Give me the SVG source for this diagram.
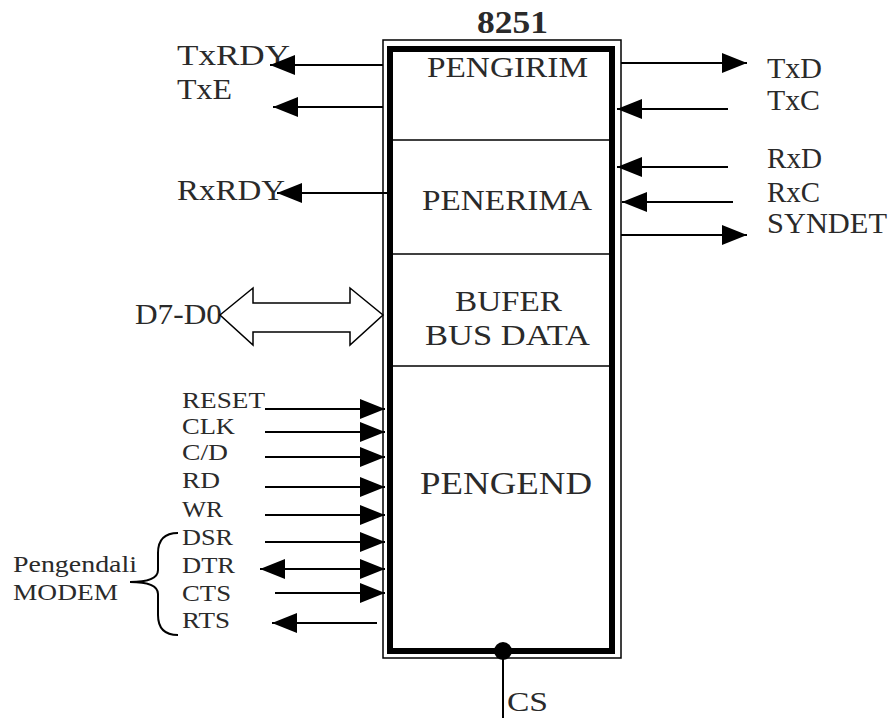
<svg xmlns="http://www.w3.org/2000/svg" width="891" height="718" viewBox="0 0 891 718">
<style>
text{font-family:"Liberation Serif","Times New Roman",serif;fill:#2a2a2a;}
.lbl{font-size:30px;}
.sm{font-size:24px;}
.blk{font-size:29px;}
.ln{stroke:#000;stroke-width:2;fill:none;}
</style>
<defs>
<marker id="ah" markerUnits="userSpaceOnUse" markerWidth="26" markerHeight="22" refX="25" refY="11" orient="auto-start-reverse" viewBox="0 0 26 22">
<path d="M0,1 L25,11 L0,21 Z" fill="#000"/>
</marker>
</defs>
<rect width="891" height="718" fill="#fff"/>
<g id="chip">
<rect x="383" y="40" width="238" height="618" fill="none" stroke="#000" stroke-width="1.5"/>
<rect x="390" y="49" width="222" height="602" fill="none" stroke="#000" stroke-width="6"/>
<line x1="393" y1="140" x2="609" y2="140" stroke="#000" stroke-width="1.5"/>
<line x1="393" y1="254" x2="609" y2="254" stroke="#000" stroke-width="1.5"/>
<line x1="393" y1="366" x2="609" y2="366" stroke="#000" stroke-width="1.5"/>
<text x="477" y="33" font-size="31" font-weight="bold" textLength="71" lengthAdjust="spacingAndGlyphs">8251</text>
</g>
<g id="pengirim"><text class="blk" x="427" y="77" textLength="161" lengthAdjust="spacingAndGlyphs">PENGIRIM</text></g>
<g id="penerima"><text class="blk" x="422" y="210" textLength="170" lengthAdjust="spacingAndGlyphs">PENERIMA</text></g>
<g id="bufer">
<text class="blk" x="455" y="311" textLength="107" lengthAdjust="spacingAndGlyphs">BUFER</text>
<text class="blk" x="425" y="345" textLength="165" lengthAdjust="spacingAndGlyphs">BUS DATA</text>
</g>
<g id="pengend"><text x="420" y="494" font-size="32" textLength="172" lengthAdjust="spacingAndGlyphs">PENGEND</text></g>
<g id="labels-left">
<text class="lbl" x="177" y="65" textLength="113" lengthAdjust="spacingAndGlyphs">TxRDY</text>
<text class="lbl" x="177" y="99" textLength="55" lengthAdjust="spacingAndGlyphs">TxE</text>
<text class="lbl" x="177" y="200" textLength="108" lengthAdjust="spacingAndGlyphs">RxRDY</text>
<text class="lbl" x="135" y="324" textLength="87" lengthAdjust="spacingAndGlyphs">D7-D0</text>
<text class="sm" x="182" y="408" textLength="83" lengthAdjust="spacingAndGlyphs">RESET</text>
<text class="sm" x="182" y="434" textLength="53" lengthAdjust="spacingAndGlyphs">CLK</text>
<text class="sm" x="182" y="460" textLength="46" lengthAdjust="spacingAndGlyphs">C/D</text>
<text class="sm" x="182" y="488" textLength="38" lengthAdjust="spacingAndGlyphs">RD</text>
<text class="sm" x="182" y="517" textLength="41" lengthAdjust="spacingAndGlyphs">WR</text>
<text class="sm" x="182" y="545" textLength="51" lengthAdjust="spacingAndGlyphs">DSR</text>
<text class="sm" x="182" y="573" textLength="53" lengthAdjust="spacingAndGlyphs">DTR</text>
<text class="sm" x="182" y="601" textLength="49" lengthAdjust="spacingAndGlyphs">CTS</text>
<text class="sm" x="182" y="628" textLength="48" lengthAdjust="spacingAndGlyphs">RTS</text>
</g>
<g id="modem">
<text x="13" y="572" font-size="23" textLength="124" lengthAdjust="spacingAndGlyphs">Pengendali</text>
<text x="13" y="600" font-size="23" textLength="105" lengthAdjust="spacingAndGlyphs">MODEM</text>
<path class="ln" d="M178,533 Q158,533 158,553 L158,570 Q158,582 130,582 Q158,582 158,594 L158,615 Q158,635 178,635"/>
</g>
<g id="labels-right">
<text class="lbl" x="767" y="78" textLength="55" lengthAdjust="spacingAndGlyphs">TxD</text>
<text class="lbl" x="767" y="110" textLength="53" lengthAdjust="spacingAndGlyphs">TxC</text>
<text class="lbl" x="767" y="168" textLength="55" lengthAdjust="spacingAndGlyphs">RxD</text>
<text class="lbl" x="767" y="202" textLength="53" lengthAdjust="spacingAndGlyphs">RxC</text>
<text class="lbl" x="767" y="233" textLength="120" lengthAdjust="spacingAndGlyphs">SYNDET</text>
</g>
<g id="cs">
<text x="507" y="711" font-size="28" textLength="41" lengthAdjust="spacingAndGlyphs">CS</text>
</g>
<g id="connectors">
<line class="ln" x1="383" y1="65" x2="270" y2="65" marker-end="url(#ah)"/>
<line class="ln" x1="383" y1="107" x2="273" y2="107" marker-end="url(#ah)"/>
<line class="ln" x1="390" y1="193" x2="277" y2="193" marker-end="url(#ah)"/>
<line class="ln" x1="621" y1="63" x2="747" y2="63" marker-end="url(#ah)"/>
<line class="ln" x1="728" y1="109" x2="617" y2="109" marker-end="url(#ah)"/>
<line class="ln" x1="728" y1="167" x2="617" y2="167" marker-end="url(#ah)"/>
<line class="ln" x1="733" y1="202" x2="622" y2="202" marker-end="url(#ah)"/>
<line class="ln" x1="621" y1="235" x2="747" y2="235" marker-end="url(#ah)"/>
<polygon points="220,315 253,288 253,303 350,303 350,288 383,315 350,345 350,332 253,332 253,345" fill="#fff" stroke="#000" stroke-width="1.5"/>
<line class="ln" x1="265" y1="409" x2="385" y2="409" marker-end="url(#ah)"/>
<line class="ln" x1="265" y1="432" x2="385" y2="432" marker-end="url(#ah)"/>
<line class="ln" x1="265" y1="457" x2="385" y2="457" marker-end="url(#ah)"/>
<line class="ln" x1="265" y1="487" x2="385" y2="487" marker-end="url(#ah)"/>
<line class="ln" x1="265" y1="515" x2="385" y2="515" marker-end="url(#ah)"/>
<line class="ln" x1="265" y1="542" x2="385" y2="542" marker-end="url(#ah)"/>
<line class="ln" x1="260" y1="569" x2="385" y2="569" marker-start="url(#ah)" marker-end="url(#ah)"/>
<line class="ln" x1="275" y1="593" x2="385" y2="593" marker-end="url(#ah)"/>
<line class="ln" x1="377" y1="623" x2="272" y2="623" marker-end="url(#ah)"/>
<line class="ln" x1="503" y1="651" x2="503" y2="718"/>
<circle cx="503" cy="651" r="9" fill="#000"/>
</g>
</svg>
